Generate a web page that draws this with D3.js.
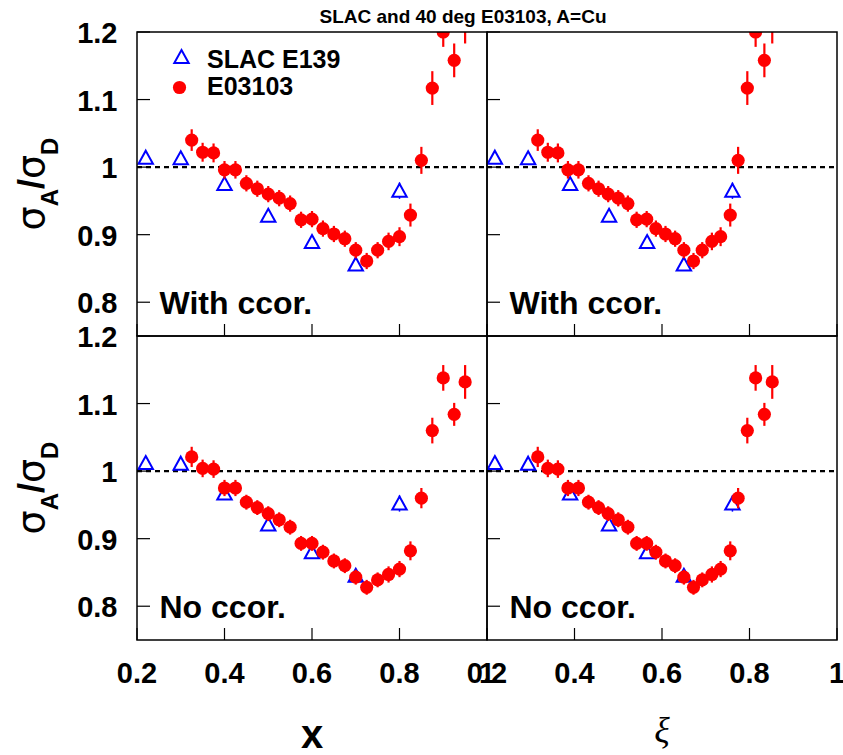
<!DOCTYPE html>
<html>
<head>
<meta charset="utf-8">
<script src="https://cdn.jsdelivr.net/npm/d3@7"></script>
<style>
  html, body { margin: 0; padding: 0; background: #fff; }
  svg { display: block; }
</style>
</head>
<body>
<svg id="chart" width="843" height="755"></svg>
<script>
// ---------------- DATA ----------------
const titleText = "SLAC and 40 deg E03103, A=Cu";
const e03103X  = [0.325,0.35,0.375,0.4,0.425,0.45,0.475,0.5,0.525,0.55,0.575,0.6,0.625,0.65,0.675,0.7,0.725,0.75,0.775,0.8,0.825,0.85,0.875,0.9,0.925,0.95];
const e03103Xi = [0.316,0.339,0.362,0.385,0.409,0.432,0.455,0.477,0.500,0.522,0.542,0.565,0.586,0.608,0.630,0.650,0.672,0.692,0.714,0.734,0.756,0.774,0.795,0.814,0.834,0.852];
const e03103With = [1.040,1.022,1.021,0.996,0.996,0.976,0.968,0.960,0.954,0.946,0.922,0.923,0.909,0.901,0.894,0.877,0.861,0.877,0.890,0.897,0.929,1.010,1.117,1.200,1.158,1.210];
const e03103WithErr = [0.016,0.014,0.014,0.013,0.013,0.012,0.012,0.012,0.012,0.012,0.012,0.012,0.012,0.012,0.012,0.012,0.012,0.012,0.013,0.014,0.017,0.020,0.025,0.022,0.025,0.027];
const e03103No = [1.021,1.004,1.003,0.975,0.975,0.954,0.946,0.937,0.928,0.917,0.893,0.893,0.880,0.867,0.860,0.843,0.828,0.839,0.847,0.855,0.882,0.960,1.060,1.138,1.084,1.132];
const e03103NoErr = [0.015,0.013,0.013,0.012,0.012,0.011,0.011,0.011,0.011,0.011,0.011,0.011,0.011,0.011,0.011,0.011,0.011,0.011,0.012,0.012,0.014,0.015,0.019,0.019,0.017,0.025];

const slacX  = [0.22,0.3,0.4,0.5,0.6,0.7,0.8];
const slacXi = [0.218,0.294,0.390,0.479,0.566,0.650,0.761];
const slacWith = [1.014,1.013,0.975,0.928,0.889,0.856,0.965];
const slacNo   = [1.012,1.011,0.967,0.921,0.880,0.845,0.952];
const slacErr  = [0.006,0.006,0.006,0.006,0.006,0.006,0.012];

const xTicks = [0.2,0.4,0.6,0.8,1.0];
const xTickLabels = ["0.2","0.4","0.6","0.8","1"];
const yTicks = [0.8,0.9,1.0,1.1,1.2];
const yTickLabels = ["0.8","0.9","1","1.1","1.2"];
const xDomain = [0.2, 1.0];
const yDomain = [0.75, 1.2];
const panelTexts = ["With ccor.", "No ccor."];
const legendLabels = ["SLAC E139", "E03103"];
const xAxisTitles = ["x", "\u03BE"];

// ---------------- LAYOUT ----------------
const svg = d3.select("#chart");
const colX = [[137, 487], [487, 837]];
const rowY = [[32, 336], [336, 640]];
const RED = "#ff0000", BLUE = "#0000ff";
const BOLD = "'Liberation Sans', Arial, Helvetica, sans-serif";

svg.append("text")
  .attr("x", 463).attr("y", 22.5)
  .attr("text-anchor", "middle")
  .style("font-family", BOLD).style("font-weight", "bold").style("font-size", "19px")
  .text(titleText);

const triPath = "M0,-7L7.2,6L-7.2,6Z";

let clipId = 0;
function drawPanel(col, row) {
  const [x0, x1] = colX[col];
  const [y0, y1] = rowY[row];
  const xs = d3.scaleLinear().domain(xDomain).range([x0, x1]);
  const ys = d3.scaleLinear().domain(yDomain).range([y1, y0]);
  const px = col === 0 ? e03103X : e03103Xi;
  const py = row === 0 ? e03103With : e03103No;
  const pe = row === 0 ? e03103WithErr : e03103NoErr;
  const sx = col === 0 ? slacX : slacXi;
  const sy = row === 0 ? slacWith : slacNo;

  const id = "clip" + (clipId++);
  svg.append("clipPath").attr("id", id)
    .append("rect").attr("x", x0).attr("y", y0).attr("width", x1 - x0).attr("height", y1 - y0);

  const g = svg.append("g");
  const inner = g.append("g").attr("clip-path", `url(#${id})`);

  // dashed line at 1
  inner.append("line")
    .attr("x1", x0).attr("x2", x1)
    .attr("y1", ys(1)).attr("y2", ys(1))
    .attr("stroke", "#000").attr("stroke-width", 2.2)
    .attr("stroke-dasharray", "5,4");

  // SLAC triangles
  const sd = sx.map((v, i) => ({x: v, y: sy[i], e: slacErr[i]}));
  inner.selectAll(".serr").data(sd).enter().append("line")
    .attr("x1", d => xs(d.x)).attr("x2", d => xs(d.x))
    .attr("y1", d => ys(d.y - d.e)).attr("y2", d => ys(d.y + d.e))
    .attr("stroke", BLUE).attr("stroke-width", 1.5);
  inner.selectAll(".tri").data(sd).enter().append("path")
    .attr("d", triPath)
    .attr("transform", d => `translate(${xs(d.x)},${ys(d.y)})`)
    .attr("fill", "#fff").attr("stroke", BLUE).attr("stroke-width", 2);

  // E03103 points
  const pd = px.map((v, i) => ({x: v, y: py[i], e: pe[i]}));
  inner.selectAll(".perr").data(pd).enter().append("line")
    .attr("x1", d => xs(d.x)).attr("x2", d => xs(d.x))
    .attr("y1", d => ys(d.y - d.e)).attr("y2", d => ys(d.y + d.e))
    .attr("stroke", RED).attr("stroke-width", 2.2);
  inner.selectAll(".pt").data(pd).enter().append("circle")
    .attr("cx", d => xs(d.x)).attr("cy", d => ys(d.y))
    .attr("r", 6.6).attr("fill", RED);

  // frame
  g.append("rect").attr("x", x0).attr("y", y0).attr("width", x1 - x0).attr("height", y1 - y0)
    .attr("fill", "none").attr("stroke", "#000").attr("stroke-width", 1.5);

  // ticks
  g.selectAll(".yt").data(yTicks).enter().append("line")
    .attr("x1", x0).attr("x2", x0 + 13)
    .attr("y1", d => ys(d)).attr("y2", d => ys(d))
    .attr("stroke", "#000").attr("stroke-width", 1.2);
  g.selectAll(".xt").data(xTicks).enter().append("line")
    .attr("x1", d => xs(d)).attr("x2", d => xs(d))
    .attr("y1", y1).attr("y2", y1 - 12)
    .attr("stroke", "#000").attr("stroke-width", 1.2);

  // y tick labels (left column only)
  if (col === 0) {
    g.selectAll(".yl").data(yTicks).enter().append("text")
      .attr("x", 117.5).attr("y", d => ys(d) + 11)
      .attr("text-anchor", "end")
      .style("font-family", BOLD).style("font-weight", "bold").style("font-size", "29px")
      .text((d, i) => yTickLabels[i]);
    // y axis title
    const yt = g.append("text")
      .attr("transform", `translate(44,${(y0 + y1) / 2}) rotate(-90)`)
      .attr("text-anchor", "middle");
    yt.append("tspan").style("font-family", "'DejaVu Sans', sans-serif").style("font-size", "38px").text("\u03C3");
    yt.append("tspan").attr("dy", 14).style("font-family", BOLD).style("font-weight", "bold").style("font-size", "24px").text("A");
    yt.append("tspan").attr("dy", -14).style("font-family", BOLD).style("font-weight", "bold").style("font-size", "36px").text("/");
    yt.append("tspan").style("font-family", "'DejaVu Sans', sans-serif").style("font-size", "38px").text("\u03C3");
    yt.append("tspan").attr("dy", 14).style("font-family", BOLD).style("font-weight", "bold").style("font-size", "24px").text("D");
  }
  // x tick labels (bottom row only)
  if (row === 1) {
    g.selectAll(".xl").data(xTicks).enter().append("text")
      .attr("x", d => xs(d)).attr("y", 682.5)
      .attr("text-anchor", "middle")
      .style("font-family", BOLD).style("font-weight", "bold").style("font-size", "29px")
      .text((d, i) => xTickLabels[i]);
    const xt = g.append("text")
      .attr("x", (x0 + x1) / 2).attr("y", col === 0 ? 748 : 742)
      .attr("text-anchor", "middle");
    if (col === 0) {
      xt.style("font-family", BOLD).style("font-weight", "bold").style("font-size", "40px").text(xAxisTitles[0]);
    } else {
      xt.style("font-family", "'Liberation Serif', serif").style("font-style", "italic").style("font-size", "36px").text(xAxisTitles[1]);
    }
  }

  // panel text
  g.append("text")
    .attr("x", x0 + 22.5).attr("y", y1 - 22.5)
    .style("font-family", BOLD).style("font-weight", "bold").style("font-size", "32px")
    .text(panelTexts[row]);

  // legend in top-left panel
  if (col === 0 && row === 0) {
    g.append("path").attr("d", triPath)
      .attr("transform", "translate(181.5,57)")
      .attr("fill", "#fff").attr("stroke", BLUE).attr("stroke-width", 2);
    g.append("circle").attr("cx", 179.5).attr("cy", 87.5).attr("r", 6.6).attr("fill", RED);
    g.append("text").attr("x", 207).attr("y", 68.3)
      .style("font-family", BOLD).style("font-weight", "bold").style("font-size", "25px")
      .text(legendLabels[0]);
    g.append("text").attr("x", 207).attr("y", 95)
      .style("font-family", BOLD).style("font-weight", "bold").style("font-size", "25px")
      .text(legendLabels[1]);
  }
}

for (let r = 0; r < 2; r++) for (let c = 0; c < 2; c++) drawPanel(c, r);
</script>
</body>
</html>
